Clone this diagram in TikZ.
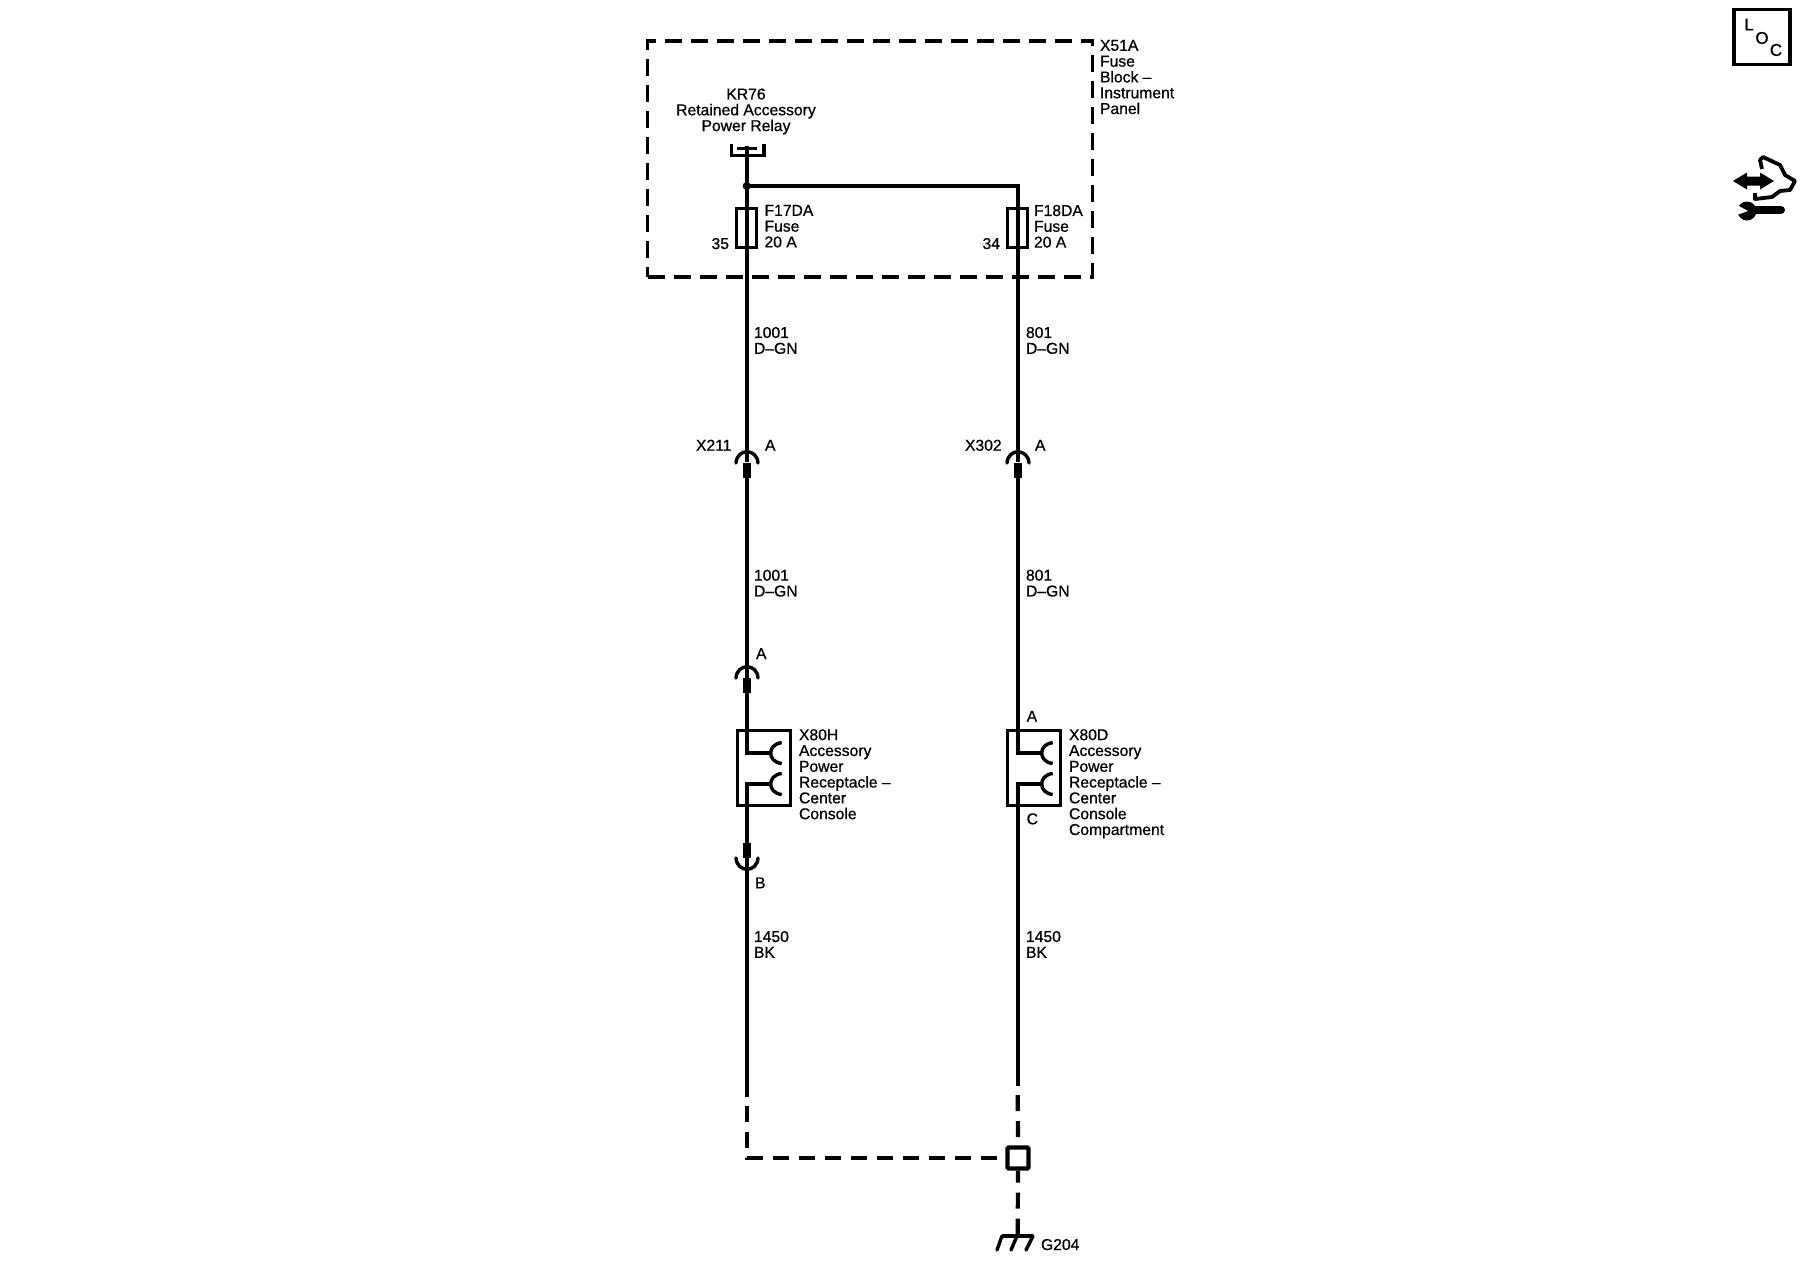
\documentclass[tikz,border=0pt]{standalone}
\usepackage{fontspec}
\setmainfont[FakeBold=0.7]{Liberation Sans}
\newcommand{\lblfont}{\fontsize{15.7}{15.8}\selectfont}
\newcommand{\locfont}{\fontsize{17}{17}\selectfont}
\tikzset{
  x=1pt,y=-1pt,
  lbl/.style={anchor=north west,inner sep=0pt,outer sep=0pt,align=left,font=\lblfont,execute at begin node={\rule{0pt}{12pt}}},
  lblr/.style={lbl,anchor=north east,align=right},
  lblc/.style={lbl,anchor=north,align=center},
  wire/.style={line width=4.2pt,line cap=butt},
  dashwire/.style={line width=4.2pt,dash pattern=on 16pt off 10pt},
  thin3/.style={line width=3.4pt},
  fuse/.style={draw,line width=3.4pt,minimum width=20pt,minimum height=39pt,inner sep=0pt,fill=white},
  recept/.style={draw,line width=3.6pt,minimum width=53pt,minimum height=75pt,inner sep=0pt},
  gndbox/.style={draw,line width=4.2pt,minimum width=21pt,minimum height=21pt,inner sep=0pt,fill=white,rounded corners=1pt},
  pin/.style={fill=black,inner sep=0pt,minimum width=8pt,minimum height=15pt},
  jdot/.style={circle,fill=black,inner sep=0pt,minimum size=8pt},
}
\begin{document}
\begin{tikzpicture}
\useasboundingbox[fill=white] (0,0) rectangle (1800,1280);
% dashed enclosure
\node[draw,line width=3.8pt,dash pattern=on 17pt off 9pt,minimum width=445pt,minimum height=236pt,inner sep=0pt] (encl) at (870,159) {};
\node[lbl] (x51) at (1100,40) {X51A\\Fuse\\Block --\\Instrument\\Panel};
\node[lblc] (kr) at (746,88.5) {KR76\\Retained Accessory\\Power Relay};
% coordinates
\coordinate (relay) at (746.7,146);
\node[jdot] (j) at (746.7,186) {};
\coordinate (jr) at (1017.7,186);
\node[fuse] (f1) at (746.7,228) {};
\node[fuse] (f2) at (1017.7,228) {};
\node[pin] (p1) at (746.7,470) {};
\node[pin] (p2) at (1017.7,470) {};
\node[pin] (p3) at (746.7,685.5) {};
\node[pin] (p4) at (746.7,850.5) {};
\node[recept] (r1) at (764,768) {};
\node[recept] (r2) at (1034,768) {};
\coordinate (e1) at (746.7,1097);
\coordinate (e2) at (1017.7,1086);
\node[gndbox] (g) at (1018,1158) {};
\coordinate (corner) at (746.7,1158);
\coordinate (gt) at (1017.7,1236);
% relay
\draw[line width=3.8pt] (731.5,143.5) -- (731.5,155.5) -- (764,155.5) -- (764,143.5);
\draw[line width=3pt] (737,148)--(757,148);
% wires
\draw[wire] (relay) -- (j.center) -- (f1.north);
\draw[wire] (j.center) -- (jr) -- (f2.north);
\draw[wire] (746.7,208) -- (746.7,248);
\draw[wire] (1017.7,208) -- (1017.7,248);
\draw[wire] (f1.south) -- (p1.north);
\draw[wire] (p1.south) -- (p3.north);
\draw[wire] (p3.south) -- (746.7,752.7) -- (770.7,752.7);
\draw[wire] (770.7,784) -- (746.7,784) -- (p4.north);
\draw[wire] (p4.south) -- (e1);
\draw[wire] (f2.south) -- (p2.north);
\draw[wire] (p2.south) -- (1017.7,752.7) -- (1041.7,752.7);
\draw[wire] (1041.7,784) -- (1017.7,784) -- (e2);
% connector hoods
\draw[thin3,line cap=round] (736,463) .. controls (737,448) and (757,448) .. (758,463);
\draw[thin3,line cap=round] (1007,463) .. controls (1008,448) and (1028,448) .. (1029,463);
\draw[thin3,line cap=round] (736,678) .. controls (737,663) and (757,663) .. (758,678);
\draw[thin3,line cap=round] (736,858) .. controls (737,873) and (757,873) .. (758,858);
% receptacle contacts
\draw[thin3] (781.7,742.7) .. controls (767,744) and (767,762) .. (781.7,763.5);
\draw[thin3] (781.7,773.5) .. controls (767,775) and (767,793) .. (781.7,794.5);
\draw[thin3] (1052.7,742.7) .. controls (1038,744) and (1038,762) .. (1052.7,763.5);
\draw[thin3] (1052.7,773.5) .. controls (1038,775) and (1038,793) .. (1052.7,794.5);
% dashed wires
\draw[dashwire] (746.7,1106) -- (corner) -- (g.west);
\draw[dashwire] (1017.7,1095) -- (g.north);
\draw[dashwire,dash phase=4pt] (g.south) -- (gt);
% ground
\draw[line width=3.4pt] (1002,1236) -- (1033,1236);
\draw[line width=3.4pt,line cap=round] (1002,1236) -- (997,1250) (1017,1236) -- (1011,1250) (1033,1236) -- (1026,1250);
% labels
\node[lbl] (n1) at (764.5,205) {F17DA\\Fuse\\20 A};
\node[lbl] (n2) at (1034,205) {F18DA\\Fuse\\20 A};
\node[lblr] (n3) at (729,237) {35};
\node[lblr] (n4) at (1000,237) {34};
\node[lbl] (n5) at (754,327) {1001\\D--GN};
\node[lbl] (n6) at (1026,327) {801\\D--GN};
\node[lbl] (n7) at (696,438.7) {X211};
\node[lbl] (n8) at (765,438.7) {A};
\node[lbl] (n9) at (965,438.7) {X302};
\node[lbl] (n10) at (1035,438.7) {A};
\node[lbl] (n11) at (754,569.7) {1001\\D--GN};
\node[lbl] (n12) at (1026,569.7) {801\\D--GN};
\node[lbl] (n13) at (756,647) {A};
\node[lbl] (n14) at (1026.7,709.7) {A};
\node[lbl] (n15) at (799,729.2) {X80H\\Accessory\\Power\\Receptacle --\\Center\\Console};
\node[lbl] (n16) at (1069,729.2) {X80D\\Accessory\\Power\\Receptacle --\\Center\\Console\\Compartment};
\node[lbl] (n17) at (1026.7,812.3) {C};
\node[lbl] (n18) at (755,876.3) {B};
\node[lbl] (n19) at (754,931) {1450\\BK};
\node[lbl] (n20) at (1026,931) {1450\\BK};
\node[lbl] (n21) at (1041,1238) {G204};
% LOC icon
\node[draw,line width=3.8pt,minimum width=56pt,minimum height=55pt,inner sep=0pt] (loc) at (1762,37) {};
\node[inner sep=0pt,font=\locfont] (l) at (1749,24.5) {L};
\node[inner sep=0pt,font=\locfont] (o) at (1762,38) {O};
\node[inner sep=0pt,font=\locfont] (c) at (1776,50) {C};
% service icon
\fill (1733,181) -- (1747,172.5) -- (1747,176.5) -- (1760,176.5) -- (1760,172.5) -- (1774,181) -- (1760,189.5) -- (1760,185.5) -- (1747,185.5) -- (1747,189.5) -- cycle;
\draw[line width=3.8pt,line join=round] (1762,169) -- (1760,160) -- (1763,157) -- (1780,165) -- (1785,175) -- (1795,181) -- (1790,190) -- (1780,191) -- (1772,197) -- (1755,199) -- (1755,193);
\draw[line width=8pt,line cap=round] (1752,210) -- (1781,210);
\fill (1747,211) circle (9.5pt);
\fill[white] (1737,205) -- (1748,211) -- (1737,215) -- cycle;
\end{tikzpicture}
\end{document}
